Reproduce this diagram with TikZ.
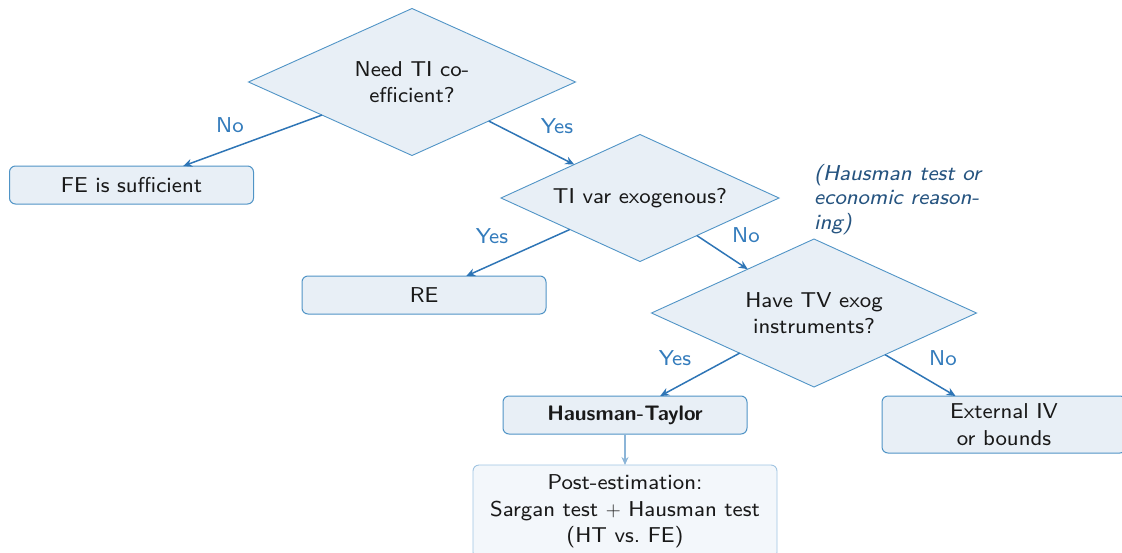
\documentclass[tikz,border=0pt]{standalone}
\usepackage{fontspec}
\setsansfont{lmsans8-regular.otf}[ItalicFont=lmsans8-oblique.otf,BoldFont=lmsans10-bold.otf]
\usetikzlibrary{shapes.geometric,arrows.meta}
\definecolor{bordc}{RGB}{80,148,198}
\definecolor{fillc}{RGB}{232,239,246}
\definecolor{edgec}{RGB}{46,117,182}
\definecolor{lblc}{RGB}{52,124,188}
\definecolor{notec}{RGB}{38,84,128}
\definecolor{textc}{RGB}{25,25,25}
\definecolor{lightbord}{RGB}{160,196,226}
\definecolor{lightfill}{RGB}{243,247,251}
\definecolor{lightedge}{RGB}{140,181,216}
\begin{document}
\begin{tikzpicture}[x=1pt,y=-1pt,
  txt/.style={font=\sffamily\fontsize{21.5}{26.5}\selectfont, text=textc},
  decision/.style={txt, diamond, draw=bordc, fill=fillc, line width=0.9pt,
    minimum width=327pt, minimum height=147pt, inner sep=0pt, outer sep=0pt,
    align=center, aspect=2},
  result/.style={txt, rectangle, rounded corners=6pt, draw=bordc, fill=fillc,
    line width=1pt, minimum width=244pt, minimum height=38pt, inner sep=0pt,
    outer sep=0pt, align=center},
  postbox/.style={txt, rectangle, rounded corners=6pt, draw=lightbord, fill=lightfill,
    line width=0.9pt, minimum width=304pt, inner xsep=0pt, inner ysep=10pt,
    outer sep=0pt, align=center},
  arr/.style={-{Stealth[length=9pt,width=8pt]}, draw=edgec, line width=1.5pt},
  arrlight/.style={-{Stealth[length=8pt,width=7pt]}, draw=lightedge, line width=1.1pt},
  lbl/.style={txt, text=lblc, inner sep=0pt},
]
\useasboundingbox (0,0) rectangle (1122,552);
\clip (0,0) rectangle (1122,552);

\node[decision] (d1) at (412,82) {Need TI co-\\efficient?};
\node[decision, minimum width=278pt, minimum height=127pt] (d2) at (640,198) {TI var exogenous?};
\node[decision, minimum width=325pt, minimum height=148pt] (d3) at (814,313) {Have TV exog\\instruments?};

\node[result] (fe) at (131.5,185) {FE is sufficient};
\node[result] (re) at (424,295) {RE};
\node[result] (ht) at (625,415) {\fontsize{21}{26}\selectfont\bfseries Hausman-Taylor};
\node[result, minimum height=57pt] (ext) at (1004,424.5) {External IV\\or bounds};
\node[postbox, anchor=north] (post) at (625,465) {Post-estimation:\\Sargan test $+$ Hausman test\\(HT vs.\ FE)};

\node[txt, font=\sffamily\itshape\fontsize{21.5}{24.5}\selectfont, text=notec, inner sep=0pt,
  anchor=north west, align=left] (note) at (814,164)
  {(Hausman test or\\economic reason-\\ing)};

\draw[arr] (d1) -- (fe);
\draw[arr] (d1) -- (d2);
\draw[arr] (d2) -- (re);
\draw[arr] (d2) -- (d3);
\draw[arr] (d3) -- (ht);
\draw[arr] (d3) -- (ext);
\draw[arrlight] (ht) -- (post);

\node[lbl] (l1) at (230,125) {No};
\node[lbl] (l2) at (557,126) {Yes};
\node[lbl] (l3) at (492,236) {Yes};
\node[lbl] (l4) at (746,235) {No};
\node[lbl] (l5) at (675,358) {Yes};
\node[lbl] (l6) at (943,358) {No};
\end{tikzpicture}
\end{document}
